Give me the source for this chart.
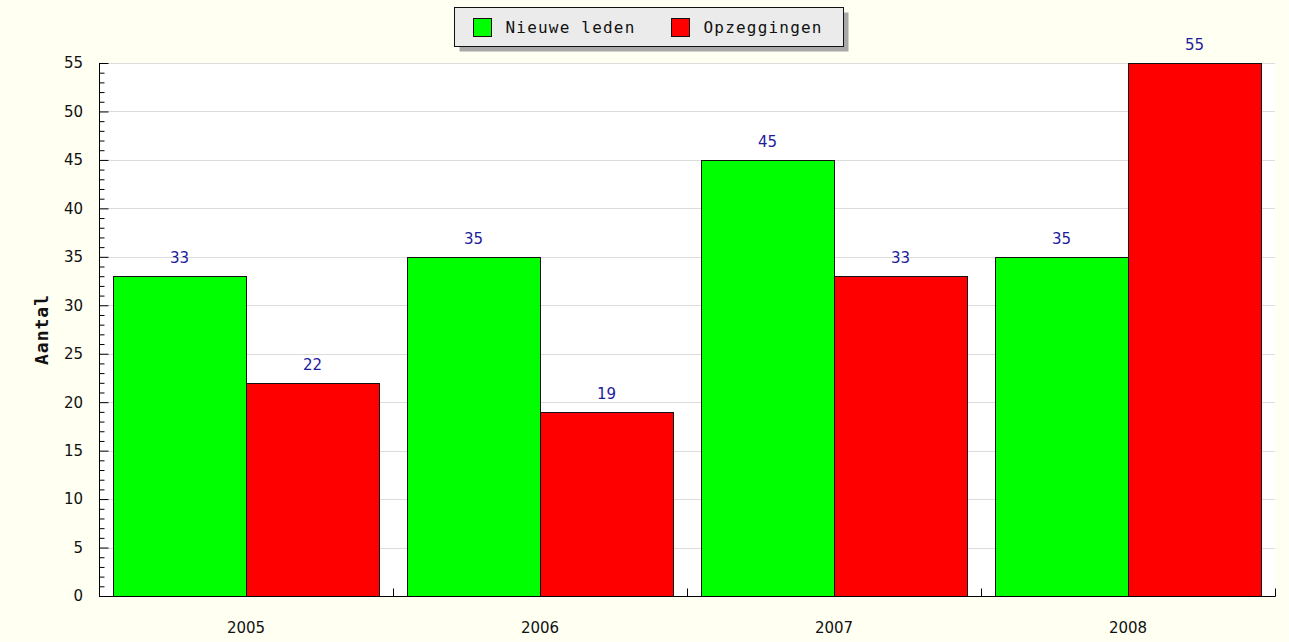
<!DOCTYPE html>
<html>
<head>
<meta charset="utf-8">
<script src="https://cdn.jsdelivr.net/npm/d3@7"></script>
<style>
  body { margin: 0; background: #fffff2; }
  svg { display: block; }
</style>
</head>
<body>
<div id="chart"></div>
<script>
// data
const years = ["2005", "2006", "2007", "2008"];
const seriesNames = ["Nieuwe leden", "Opzeggingen"];
const nieuweLeden = [33, 35, 45, 35];
const opzeggingen = [22, 19, 33, 55];
const yTicks = [0, 5, 10, 15, 20, 25, 30, 35, 40, 45, 50, 55];

const WIDTH = 1289;
const HEIGHT = 642;
const margin = { top: 63, right: 14, bottom: 46, left: 99 };
const colors = ["#00ff00", "#ff0000"];
const sans = "DejaVu Sans, Verdana, sans-serif";
const mono = "DejaVu Sans Mono, monospace";

const svg = d3
  .select("#chart")
  .append("svg")
  .attr("width", WIDTH)
  .attr("height", HEIGHT)
  .style("background-color", "#fffff2");

const x0 = d3
  .scaleBand()
  .domain(years)
  .range([margin.left, WIDTH - margin.right]);

const x1 = d3
  .scaleBand()
  .domain(seriesNames)
  .range([0, x0.bandwidth()])
  .paddingOuter(0.105);

const y = d3
  .scaleLinear()
  .domain([0, 55])
  .range([HEIGHT - margin.bottom, margin.top]);

// plot area
svg
  .append("rect")
  .attr("x", margin.left)
  .attr("y", margin.top)
  .attr("width", WIDTH - margin.right - margin.left)
  .attr("height", HEIGHT - margin.bottom - margin.top)
  .attr("fill", "white");

// grid lines
svg
  .append("g")
  .selectAll("line")
  .data(yTicks.slice(1))
  .enter()
  .append("line")
  .attr("x1", margin.left)
  .attr("x2", WIDTH - margin.right)
  .attr("y1", (d) => Math.round(y(d)) + 0.5)
  .attr("y2", (d) => Math.round(y(d)) + 0.5)
  .attr("stroke", "#dcdcdc")
  .attr("stroke-width", 1);

// bars
const rows = years.map((yr, i) => ({
  year: yr,
  values: [nieuweLeden[i], opzeggingen[i]],
}));

const groups = svg
  .append("g")
  .selectAll("g")
  .data(rows)
  .enter()
  .append("g")
  .attr("transform", (d) => `translate(${Math.round(x0(d.year))},0)`);

groups
  .selectAll("rect")
  .data((d) => d.values.map((v, j) => ({ name: seriesNames[j], value: v, j })))
  .enter()
  .append("rect")
  .attr("x", (d) => Math.round(x1(d.name)) + 0.5)
  .attr("y", (d) => Math.round(y(d.value)) + 0.5)
  .attr("width", Math.round(x1.bandwidth()))
  .attr("height", (d) => Math.round(y(0)) - Math.round(y(d.value)))
  .attr("fill", (d) => colors[d.j])
  .attr("stroke", "#111")
  .attr("stroke-width", 1);

groups
  .selectAll("text")
  .data((d) => d.values.map((v, j) => ({ name: seriesNames[j], value: v })))
  .enter()
  .append("text")
  .attr("x", (d) => x1(d.name) + x1.bandwidth() / 2)
  .attr("y", (d) => y(d.value) - 13)
  .attr("text-anchor", "middle")
  .attr("font-family", sans)
  .attr("font-size", "15px")
  .attr("fill", "#1c1c9c")
  .text((d) => d.value);

// y axis
const yAxis = d3
  .axisRight(y)
  .tickValues(d3.range(0, 56, 1))
  .tickSize(5)
  .tickFormat("");

const yAxisG = svg
  .append("g")
  .attr("transform", `translate(${margin.left + 0.5},0)`)
  .call(yAxis);
yAxisG.select(".domain").attr("stroke", "#000").attr("d", `M0,${y(0)}V${y(55)}`);
yAxisG.selectAll(".tick line")
  .attr("stroke", "#000")
  .attr("x2", (d) => (d % 5 === 0 ? 9 : 5));

svg
  .append("g")
  .selectAll("text")
  .data(yTicks)
  .enter()
  .append("text")
  .attr("x", margin.left - 16)
  .attr("y", (d) => y(d))
  .attr("dy", "0.36em")
  .attr("text-anchor", "end")
  .attr("font-family", sans)
  .attr("font-size", "15px")
  .attr("fill", "#111")
  .text((d) => d);

// x axis
const xAxisG = svg
  .append("g")
  .attr("transform", `translate(0,${y(0) + 0.5})`);
xAxisG
  .append("line")
  .attr("x1", margin.left)
  .attr("x2", WIDTH - margin.right + 0.5)
  .attr("stroke", "#000");
xAxisG
  .selectAll("line.sep")
  .data(years.map((d) => x0(d) + x0.bandwidth()))
  .enter()
  .append("line")
  .attr("class", "sep")
  .attr("x1", (d) => Math.round(d) + 0.5)
  .attr("x2", (d) => Math.round(d) + 0.5)
  .attr("y1", 0)
  .attr("y2", -8)
  .attr("stroke", "#000");
xAxisG
  .selectAll("text")
  .data(years)
  .enter()
  .append("text")
  .attr("x", (d) => x0(d) + x0.bandwidth() / 2)
  .attr("y", 36)
  .attr("text-anchor", "middle")
  .attr("font-family", sans)
  .attr("font-size", "15px")
  .attr("fill", "#111")
  .text((d) => d);

// y axis title
svg
  .append("text")
  .attr("transform", `translate(48,${(y(0) + y(55)) / 2}) rotate(-90)`)
  .attr("text-anchor", "middle")
  .attr("font-family", mono)
  .attr("font-weight", "bold")
  .attr("font-size", "18px")
  .attr("letter-spacing", "1px")
  .attr("fill", "#111")
  .text("Aantal");

// legend
const lg = svg.append("g").attr("transform", "translate(454.5,7.5)");
lg.append("rect")
  .attr("x", 5)
  .attr("y", 5)
  .attr("width", 389)
  .attr("height", 39)
  .attr("fill", "#a8a8a8");
lg.append("rect")
  .attr("width", 389)
  .attr("height", 39)
  .attr("fill", "#ebebeb")
  .attr("stroke", "#111");

const legendX = [19, 217];
seriesNames.forEach((name, i) => {
  lg.append("rect")
    .attr("x", legendX[i])
    .attr("y", 11)
    .attr("width", 18)
    .attr("height", 18)
    .attr("fill", colors[i])
    .attr("stroke", "#111");
  lg.append("text")
    .attr("x", legendX[i] + 32)
    .attr("y", 20)
    .attr("dy", "0.36em")
    .attr("font-family", mono)
    .attr("font-size", "16px")
    .attr("letter-spacing", "1.2px")
    .attr("fill", "#111")
    .text(name);
});
</script>
</body>
</html>
